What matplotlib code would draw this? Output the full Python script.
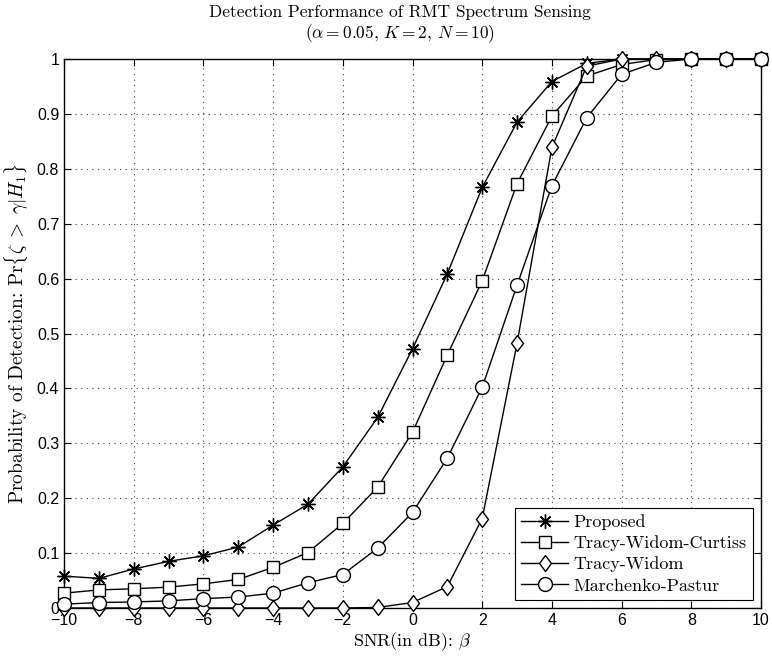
import matplotlib
matplotlib.use("Agg")
import matplotlib.pyplot as plt
from matplotlib.ticker import FixedLocator, FuncFormatter

# ---------------- data ----------------
snr_db = list(range(-10, 11))

proposed = [0.058, 0.054, 0.071, 0.085, 0.095, 0.111, 0.151, 0.189, 0.257, 0.347,
            0.472, 0.609, 0.766, 0.885, 0.959, 0.992, 1.0, 1.0, 1.0, 1.0, 1.0]
tw_curtiss = [0.027, 0.033, 0.035, 0.038, 0.044, 0.052, 0.074, 0.101, 0.154, 0.220,
              0.320, 0.461, 0.596, 0.773, 0.896, 0.969, 0.990, 0.999, 1.0, 1.0, 1.0]
tracy_widom = [0.0, 0.0, 0.0, 0.0, 0.0, 0.0, 0.0, 0.0, 0.0, 0.001,
               0.010, 0.039, 0.163, 0.482, 0.839, 0.987, 1.0, 1.0, 1.0, 1.0, 1.0]
marchenko = [0.007, 0.010, 0.011, 0.013, 0.017, 0.020, 0.027, 0.046, 0.061, 0.109,
             0.174, 0.273, 0.402, 0.588, 0.769, 0.893, 0.972, 0.994, 1.0, 1.0, 1.0]

labels = ["Proposed", "Tracy-Widom-Curtiss", "Tracy-Widom", "Marchenko-Pastur"]

x_ticks = list(range(-10, 11, 2))
y_ticks = [i / 10 for i in range(11)]

# ---------------- styling ----------------
plt.rcParams["mathtext.fontset"] = "cm"
plt.rcParams["font.family"] = ["Liberation Sans", "DejaVu Sans"]

asterisk = (8, 2, 0)
diamond = [(0, 1), (0.75, 0), (0, -1), (-0.75, 0), (0, 1)]
styles = [
    dict(marker=asterisk, ms=10),
    dict(marker="s", ms=8.5),
    dict(marker=diamond, ms=11.5),
    dict(marker="o", ms=10),
]

fig = plt.figure(figsize=(7.72, 6.56), dpi=100)
ax = fig.add_axes([64 / 772, 1 - 608 / 656, (761 - 64) / 772, (608 - 59) / 656])

for ys, lab, st in zip([proposed, tw_curtiss, tracy_widom, marchenko], labels, styles):
    ax.plot(snr_db, ys, color="black", lw=1.0, mfc="white", mec="black", mew=1.0,
            clip_on=False, zorder=3, label=lab, **st)

ax.set_xlim(-10, 10)
ax.set_ylim(0, 1)
ax.xaxis.set_major_locator(FixedLocator(x_ticks))
ax.yaxis.set_major_locator(FixedLocator(y_ticks))
ax.xaxis.set_major_formatter(FuncFormatter(lambda v, p: ("%d" % v).replace("-", "\u2212")))
ax.yaxis.set_major_formatter(FuncFormatter(lambda v, p: "%g" % v))
ax.tick_params(direction="in", length=5, width=0.8, top=True, right=True,
               labelsize=11.5, colors="black")
ax.grid(True, color="0.25", linestyle=(0, (1, 4)), lw=0.8)
for s in ax.spines.values():
    s.set_linewidth(1.0)

ax.set_title("Detection Performance of RMT Spectrum Sensing\n"
             r"$(\alpha = 0.05,\, K = 2,\, N = 10)$",
             fontdict=dict(family="cmr10", size=12.5), x=0.482, pad=15, linespacing=1.15)
ax.set_xlabel(r"SNR(in dB): $\beta$", fontdict=dict(family="cmr10", size=13), labelpad=2)
ax.set_ylabel(r"Probability of Detection: Pr$\{\zeta \;>\; \gamma|H_1\}$",
              fontdict=dict(family="cmr10", size=14), labelpad=4)

leg = ax.legend(loc="lower right", prop=dict(family="cmr10", size=13), frameon=True,
                fancybox=False, edgecolor="black", framealpha=1, borderaxespad=0.45,
                handlelength=2.6, labelspacing=0.3, borderpad=0.35, handletextpad=0.3)
leg.get_frame().set_linewidth(0.8)

fig.savefig("out.png", dpi=100)
